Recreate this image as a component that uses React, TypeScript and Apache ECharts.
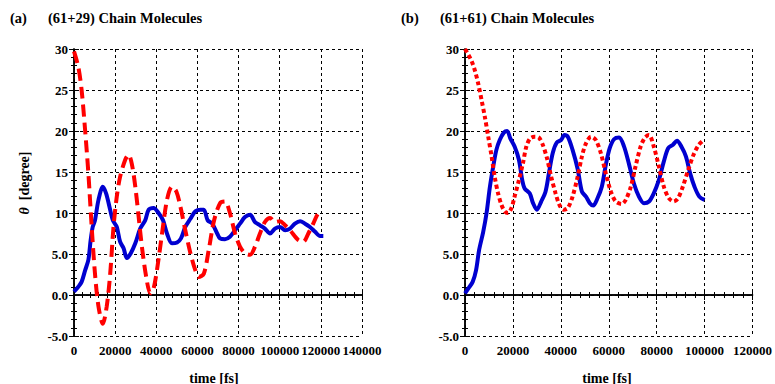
import React, { useEffect, useRef } from "react";
import * as echarts from "echarts";

// Panel (a): (61+29) chain molecules
const aBlueT = [0, 2100, 3700, 5400, 7000, 8100, 9100, 10200, 11900, 14000, 15600, 17200, 18900, 20800, 22400, 24100, 25700, 27600, 29800, 32200, 34600, 36300, 38700, 41100, 43300, 45200, 47600, 50100, 52000, 54100, 56600, 59000, 61500, 63100, 65000, 67200, 69600, 71000, 73400, 75800, 78300, 80700, 83100, 85600, 88000, 90400, 92800, 95300, 97700, 100100, 102600, 105000, 107400, 109900, 112300, 114700, 117200, 119600, 121200];
const aBlueV = [0.4, 1.0, 1.6, 3.0, 4.3, 6.7, 8.3, 9.1, 11.6, 13.2, 12.4, 10.8, 9.1, 8.3, 6.5, 5.7, 4.5, 5.1, 6.3, 8.1, 9.1, 10.4, 10.6, 10, 9.1, 7.5, 6.3, 6.4, 6.9, 8.3, 9.3, 10.2, 10.4, 10.4, 9.1, 8.7, 7.5, 6.9, 6.8, 7.1, 7.9, 8.7, 9.5, 9.8, 8.9, 8.5, 8.1, 7.5, 8.1, 8.3, 7.9, 8.1, 8.7, 9.0, 8.7, 8.3, 7.7, 7.2, 7.2];
const aRedT = [0, 2100, 3700, 5400, 7000, 8600, 10200, 11900, 14000, 15900, 17600, 19200, 20800, 22400, 24900, 26500, 28100, 29800, 31400, 33000, 35100, 37100, 38700, 40600, 42800, 45200, 47600, 49800, 51700, 54100, 56600, 59000, 60600, 63100, 65500, 68000, 71000, 73400, 75800, 78300, 80700, 83100, 85600, 88000, 90400, 92800, 95300, 97700, 100100, 102600, 105000, 109000, 111500, 113900, 116300, 118300, 120000];
const aRedV = [29.7, 27.8, 25, 20.1, 14.8, 8.3, 2.6, -1.4, -3.5, -1.4, 2.6, 8.3, 12, 14.4, 16.5, 17.1, 16, 13.2, 9.6, 5.9, 2.2, 0.2, 0.8, 3.5, 7.5, 11.6, 13.2, 12.6, 10.8, 7.9, 5.1, 3, 2.2, 2.6, 5.5, 9.0, 11.2, 11.4, 10, 7.5, 5.9, 5.1, 4.9, 5.9, 7.5, 8.9, 9.4, 8.9, 9.0, 8.5, 7.9, 6.7, 6.5, 7.5, 8.7, 9.8, 10.4];

// Panel (b): (61+61) chain molecules
const bBlueT = [0, 1400, 3200, 4600, 5900, 7600, 9000, 10400, 11800, 13100, 14500, 16200, 17600, 18900, 20700, 22500, 23900, 24900, 27000, 28400, 30000, 31800, 33600, 35000, 36600, 38300, 40100, 41500, 42900, 44900, 47000, 48800, 50500, 52100, 53500, 55300, 57100, 58800, 60400, 62200, 64300, 66400, 68500, 70500, 72600, 74700, 76800, 78800, 80900, 83000, 84800, 86700, 88500, 90300, 92200, 94000, 95800, 97800, 100000];
const bBlueV = [0.2, 0.8, 1.6, 3, 5.5, 7.7, 10, 13.2, 15.7, 17.7, 18.9, 19.8, 20, 19.1, 18.1, 16.5, 14, 13, 12.4, 11.2, 10.4, 11.4, 12.6, 14.8, 17.3, 18.6, 18.9, 19.5, 19.3, 17.7, 15.4, 12.6, 12, 11.2, 10.9, 11.8, 13.2, 15.9, 17.9, 19, 19.2, 18.1, 15.9, 13.6, 12, 11.2, 11.4, 12.4, 14, 16.3, 17.9, 18.3, 18.8, 18.1, 16.9, 14.8, 13.2, 12, 11.6];
const bRedT = [0, 1400, 2800, 4100, 5500, 6900, 8300, 9700, 11100, 12400, 13800, 15200, 16600, 18000, 19400, 20700, 22500, 24200, 25600, 27200, 29000, 30800, 32500, 34200, 36000, 37800, 39400, 41100, 42900, 44900, 47000, 48800, 50500, 52600, 54600, 56700, 58800, 60900, 62900, 65400, 67100, 69200, 71200, 73300, 75100, 76800, 78800, 80900, 83000, 85100, 87100, 88900, 90900, 93100, 95400, 97500, 99600];
const bRedV = [30, 29.3, 28.5, 27.4, 25.8, 23.8, 21.7, 19.3, 16.9, 14.4, 12.4, 11, 10.2, 10, 10.6, 12, 14, 16.1, 18.1, 19.1, 19.3, 19.2, 18.3, 16.7, 14.4, 12.4, 11, 10.4, 10.6, 12, 14.4, 16.9, 18.5, 19.3, 18.9, 17.3, 14.8, 12.6, 11.4, 11.1, 11.6, 13.2, 15.7, 18.1, 19.2, 19.5, 18.1, 15.7, 13.2, 11.8, 11.4, 11.8, 13.2, 15.2, 17.1, 18.3, 18.9];

const titlesA = ["(a)", "(61+29) Chain Molecules"];
const titlesB = ["(b)", "(61+61) Chain Molecules"];
const xName = "time [fs]";
const yName = "[degree]";

const zip = (t: number[], v: number[]) => t.map((x, i) => [x, v[i]]);

const FONT = "Liberation Serif";
const labelStyle = { color: "#000", fontFamily: FONT, fontWeight: "bold" as const, fontSize: 13 };

function xAxes(gridIndex: number, max: number) {
  const common = {
    type: "value" as const,
    gridIndex,
    min: 0,
    max,
    interval: 20000,
    axisLine: { show: true, lineStyle: { color: "#000", width: 1.5 } },
    axisTick: { show: true, inside: true, length: 5, lineStyle: { color: "#000" } },
    minorTick: { show: true, splitNumber: 5, length: 3, lineStyle: { color: "#000" } },
  };
  return [
    {
      ...common,
      position: "bottom" as const,
      axisLabel: {
        ...labelStyle,
        margin: 8,
        hideOverlap: false,
        showMinLabel: true,
        showMaxLabel: true,
        formatter: (v: number) => String(v),
      },
      splitLine: { show: true, lineStyle: { color: "#000", type: [3, 3], width: 1 } },
    },
    {
      ...common,
      position: "top" as const,
      axisLabel: { show: false },
      splitLine: { show: false },
    },
  ];
}

function yAxes(gridIndex: number) {
  const common = {
    type: "value" as const,
    gridIndex,
    min: -5,
    max: 30,
    interval: 5,
    axisLine: { show: true, lineStyle: { color: "#000", width: 1.5 } },
    axisTick: { show: true, inside: true, length: 5, lineStyle: { color: "#000" } },
    minorTick: { show: true, splitNumber: 5, length: 3, lineStyle: { color: "#000" } },
  };
  return [
    {
      ...common,
      position: "left" as const,
      axisLabel: {
        ...labelStyle,
        margin: 6,
        formatter: (v: number) => (Math.abs(v) < 10 ? v.toFixed(1) : String(v)),
      },
      splitLine: { show: true, lineStyle: { color: "#000", type: [3, 3], width: 1 } },
    },
    {
      ...common,
      position: "right" as const,
      axisLabel: { show: false },
      splitLine: { show: false },
    },
  ];
}

const BLUE = "#0000d0";
const RED = "#ff0000";

export default function App() {
  const ref = useRef<HTMLDivElement>(null);
  useEffect(() => {
    if (!ref.current) return;
    const chart = echarts.init(ref.current, undefined, { renderer: "svg" });
    const titleText = (x: number, text: string) => ({
      type: "text",
      left: x,
      top: 10,
      style: { text, fill: "#000", fontFamily: FONT, fontWeight: "bold", fontSize: 14.5 },
    });
    const yLabel = (cx: number, cy: number) => ({
      type: "text",
      x: cx,
      y: cy,
      rotation: Math.PI / 2,
      style: {
        text: "{i|θ}  " + yName,
        fill: "#000",
        fontFamily: FONT,
        fontWeight: "bold",
        fontSize: 14,
        align: "center",
        verticalAlign: "middle",
        rich: { i: { fontStyle: "italic", fontWeight: "bold", fontFamily: FONT, fontSize: 14 } },
      },
    });
    const xLabel = (cx: number) => ({
      type: "text",
      x: cx,
      y: 378,
      style: {
        text: xName,
        fill: "#000",
        fontFamily: FONT,
        fontWeight: "bold",
        fontSize: 14,
        align: "center",
        verticalAlign: "middle",
      },
    });
    chart.setOption({
      animation: false,
      backgroundColor: "#fff",
      textStyle: { fontFamily: FONT },
      grid: [
        { left: 74, top: 49, width: 288, height: 287 },
        { left: 465, top: 49, width: 288, height: 287 },
      ],
      xAxis: [...xAxes(0, 140000), ...xAxes(1, 120000)],
      yAxis: [...yAxes(0), ...yAxes(1)],
      series: [
        {
          type: "line",
          xAxisIndex: 0,
          yAxisIndex: 0,
          data: zip(aBlueT, aBlueV),
          showSymbol: false,
          smooth: 0.3,
          lineStyle: { color: BLUE, width: 4 },
          z: 3,
        },
        {
          type: "line",
          xAxisIndex: 0,
          yAxisIndex: 0,
          data: zip(aRedT, aRedV),
          showSymbol: false,
          smooth: 0.3,
          lineStyle: { color: RED, width: 4, type: [12, 6] },
          z: 4,
        },
        {
          type: "line",
          xAxisIndex: 2,
          yAxisIndex: 2,
          data: zip(bBlueT, bBlueV),
          showSymbol: false,
          smooth: 0.3,
          lineStyle: { color: BLUE, width: 4 },
          z: 3,
        },
        {
          type: "line",
          xAxisIndex: 2,
          yAxisIndex: 2,
          data: zip(bRedT, bRedV),
          showSymbol: false,
          smooth: 0.3,
          lineStyle: { color: RED, width: 4, type: [4, 3] },
          z: 4,
        },
      ],
      graphic: [
        titleText(10, titlesA[0]),
        titleText(48, titlesA[1]),
        titleText(401, titlesB[0]),
        titleText(440, titlesB[1]),
        yLabel(24, 183),
        xLabel(214),
        xLabel(607),
      ],
    });
    return () => chart.dispose();
  }, []);
  return <div ref={ref} style={{ position: "fixed", left: 0, top: 0, width: 775, height: 384 }} />;
}
